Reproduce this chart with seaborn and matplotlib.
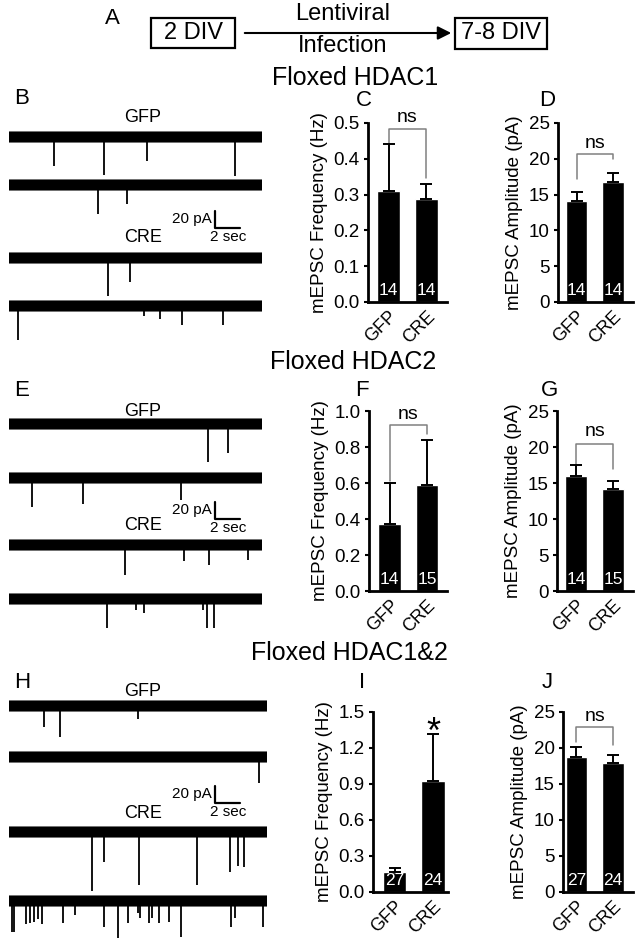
import numpy as np
import pandas as pd
import matplotlib
matplotlib.use("Agg")
import matplotlib.pyplot as plt
import seaborn as sns
from matplotlib.patches import Rectangle

sns.set_theme(style="ticks", rc={"text.color": "black", "axes.labelcolor": "black",
                                 "xtick.color": "black", "ytick.color": "black",
                                 "axes.edgecolor": "black"})
plt.rcParams['font.family'] = ['Liberation Sans', 'DejaVu Sans']

# ---------------- data ----------------
groups = ["GFP", "CRE"]

freq_hdac1 = [0.31, 0.287]
freq_hdac1_sem = [0.13, 0.043]
amp_hdac1 = [14.1, 16.8]
amp_hdac1_sem = [1.3, 1.25]
n_hdac1 = [14, 14]

freq_hdac2 = [0.37, 0.59]
freq_hdac2_sem = [0.23, 0.25]
amp_hdac2 = [16.0, 14.1]
amp_hdac2_sem = [1.5, 1.2]
n_hdac2 = [14, 15]

freq_hdac12 = [0.164, 0.927]
freq_hdac12_sem = [0.036, 0.387]
amp_hdac12 = [18.8, 17.9]
amp_hdac12_sem = [1.4, 1.1]
n_hdac12 = [27, 24]

# example traces: event times (s) and amplitudes (pA)
b_gfp1_t = [3.56, 7.51, 10.9, 17.9]
b_gfp1_a = [34, 45, 28, 46]
b_gfp2_t = [7.04, 9.33]
b_gfp2_a = [34, 22]
b_cre1_t = [7.83, 9.57]
b_cre1_a = [45, 28]
b_cre2_t = [0.71, 10.7, 11.9, 13.7, 16.9]
b_cre2_a = [40, 12, 15, 22, 22]

e_gfp1_t = [15.7, 17.3]
e_gfp1_a = [45, 34]
e_gfp2_t = [1.82, 5.85, 13.6]
e_gfp2_a = [34, 31, 26]
e_cre1_t = [9.17, 13.8, 15.8, 18.9]
e_cre1_a = [35, 19, 23.5, 17.6]
e_cre2_t = [7.75, 10.0, 10.7, 15.3, 15.65, 16.2]
e_cre2_a = [34, 13, 16.5, 13, 34, 34]

h_gfp1_t = [2.77, 4.03, 10.2]
h_gfp1_a = [24.7, 36.5, 15.3]
h_gfp2_t = [19.8]
h_gfp2_a = [30.6]
h_cre1_t = [6.56, 7.51, 10.3, 14.9, 17.5, 18.1, 18.6]
h_cre1_a = [69, 35, 62, 62, 47, 40, 41]
h_cre2_t = [0.24, 0.40, 1.34, 1.66, 1.98, 2.29, 2.61, 4.27, 5.22, 7.51, 8.62, 9.41,
            10.2, 10.36, 11.07, 11.3, 11.86, 12.65, 13.6, 17.55, 17.87, 20.1]
h_cre2_a = [36.5, 36.5, 27, 26, 25, 21, 27, 26, 16.5, 30.6, 43.5, 26,
            14, 20, 26, 20, 26, 25, 42, 30.6, 20, 30.6]

# ---------------- layout helpers ----------------
W, H = 640, 944
fig = plt.figure(figsize=(W / 100, H / 100), dpi=100)


def add_ax(l, t, r, b, **kw):
    return fig.add_axes([l / W, 1 - b / H, (r - l) / W, (b - t) / H], **kw)


def ftext(x, y, s, **kw):
    kw.setdefault("ha", "center")
    kw.setdefault("va", "center")
    fig.text(x / W, 1 - y / H, s, **kw)


# overlay for diagram (panel A)
ov = add_ax(0, 0, W, H)
ov.set_xlim(0, W)
ov.set_ylim(H, 0)
ov.axis("off")
ov.add_patch(Rectangle((151, 18), 84, 30, fill=False, lw=1.6, ec="black"))
ov.add_patch(Rectangle((455, 18), 92, 31, fill=False, lw=1.6, ec="black"))
ov.annotate("", xy=(454, 33), xytext=(242, 33),
            arrowprops=dict(arrowstyle="-|>", lw=1.5, color="black", mutation_scale=20))
ftext(193, 33, "2 DIV", fontsize=17)
ftext(501, 33, "7-8 DIV", fontsize=17)
ftext(343, 14, "Lentiviral", fontsize=17)
ftext(343, 46, "Infection", fontsize=17)

# titles
ftext(355, 78, "Floxed HDAC1", fontsize=18)
ftext(353, 362, "Floxed HDAC2", fontsize=18)
ftext(349, 653, "Floxed HDAC1&2", fontsize=18)

# panel letters
for letter, (x, y) in {"A": (112, 19), "B": (22, 99), "C": (364, 100), "D": (547, 100),
                       "E": (22, 391), "F": (362, 391), "G": (549, 391),
                       "H": (22, 683), "I": (362, 683), "J": (547, 683)}.items():
    ftext(x, y, letter, fontsize=16)

# ---------------- traces ----------------
PX_PER_S = 12.65
PX_PER_PA = 0.85


def trace_panel(top, bottom, length, traces, centers, labels, bar_y):
    ax = add_ax(9, top, 9 + length * PX_PER_S, bottom)
    ax.set_xlim(0, length)
    ax.set_ylim(-(bottom - top) / PX_PER_PA, 0)
    ax.axis("off")
    for (t, a), c in zip(traces, centers):
        base = -(c - top) / PX_PER_PA
        ax.fill_between([0, length], base - 7.5, base + 7.5, color="black", alpha=0.55, lw=0)
        ax.fill_between([0, length], base - 5.5, base + 5.5, color="black", lw=0)
        ax.vlines(t, base, base - np.asarray(a), color="black", lw=1.3)
    # scale bar
    xs = (215 - 9) / PX_PER_S
    yb = -(bar_y - top) / PX_PER_PA
    ax.plot([xs, xs, xs + 2], [yb + 20, yb, yb], color="black", lw=1.6, clip_on=False)
    ftext(212, bar_y - 9, "20 pA", fontsize=11, ha="right")
    ftext(228, bar_y + 9, "2 sec", fontsize=11)
    for s, (x, y) in labels:
        ftext(x, y, s, fontsize=13)


trace_panel(105, 345, 20,
            [(b_gfp1_t, b_gfp1_a), (b_gfp2_t, b_gfp2_a), (b_cre1_t, b_cre1_a), (b_cre2_t, b_cre2_a)],
            [137, 185, 258, 306], [("GFP", (143, 117)), ("CRE", (143, 238))], 228)
trace_panel(395, 640, 20,
            [(e_gfp1_t, e_gfp1_a), (e_gfp2_t, e_gfp2_a), (e_cre1_t, e_cre1_a), (e_cre2_t, e_cre2_a)],
            [424, 478, 545, 599], [("GFP", (143, 411)), ("CRE", (143, 526))], 519)
trace_panel(688, 944, 20.4,
            [(h_gfp1_t, h_gfp1_a), (h_gfp2_t, h_gfp2_a), (h_cre1_t, h_cre1_a), (h_cre2_t, h_cre2_a)],
            [706, 757, 832, 901], [("GFP", (143, 691)), ("CRE", (143, 813))], 803)


# ---------------- bar panels ----------------
def bar_panel(rect, xlim, means, sems, ns, ymax, step, fmt, ylabel, bracket=None, star=None):
    ax = add_ax(*rect)
    df = pd.DataFrame({"group": groups, "value": means})
    sns.barplot(data=df, x="group", y="value", color="black", saturation=1,
                width=0.6, errorbar=None, ax=ax)
    ax.errorbar([0, 1], means, yerr=[np.zeros(2), sems], fmt="none", ecolor="black",
                elinewidth=1.4, capsize=4, capthick=1.4, zorder=3)
    ax.set_xlim(*xlim)
    ax.set_ylim(0, ymax)
    ticks = np.arange(0, ymax + step / 2, step)
    ax.set_yticks(ticks)
    ax.set_yticklabels([fmt.format(v) for v in ticks])
    ax.set_xlabel("")
    ax.set_ylabel(ylabel, fontsize=13.5, labelpad=4)
    sns.despine(ax=ax)
    ax.spines["left"].set_linewidth(2)
    ax.spines["bottom"].set_linewidth(2)
    ax.tick_params(axis="y", direction="out", length=3, width=1.5, labelsize=13.5, pad=3)
    ax.tick_params(axis="x", length=0, labelsize=13, pad=4)
    for lab in ax.get_xticklabels():
        lab.set_rotation(45)
        lab.set_ha("right")
        lab.set_rotation_mode("anchor")
    for i, n in enumerate(ns):
        ax.annotate(str(n), (i, 0), xytext=(0, 3), textcoords="offset points",
                    ha="center", va="bottom", color="white", fontsize=12.5)
    if bracket is not None:
        lo_l, top, lo_r, ns_y = bracket
        ax.plot([0, 0, 1, 1], [lo_l, top, top, lo_r], color="#808080", lw=1.1, clip_on=False)
        ax.text(0.5, ns_y, "ns", ha="center", va="center", fontsize=14, clip_on=False)
    if star is not None:
        ax.text(1, star, "*", ha="center", va="baseline", fontsize=26, clip_on=False)
    return ax


bar_panel((368, 123, 447, 302), (-0.54, 1.54), freq_hdac1, freq_hdac1_sem, n_hdac1,
          0.5, 0.1, "{:.1f}", "mEPSC Frequency (Hz)", bracket=(0.445, 0.482, 0.346, 0.514))
bar_panel((558, 123, 633, 302), (-0.51, 1.55), amp_hdac1, amp_hdac1_sem, n_hdac1,
          25, 5, "{:.0f}", "mEPSC Amplitude (pA)", bracket=(17.2, 20.7, 20.0, 22.2))
bar_panel((369, 411, 447, 591), (-0.55, 1.53), freq_hdac2, freq_hdac2_sem, n_hdac2,
          1.0, 0.2, "{:.1f}", "mEPSC Frequency (Hz)", bracket=(0.61, 0.92, 0.87, 0.98))
bar_panel((557, 411, 633, 591), (-0.53, 1.55), amp_hdac2, amp_hdac2_sem, n_hdac2,
          25, 5, "{:.0f}", "mEPSC Amplitude (pA)", bracket=(17.7, 20.4, 17.0, 22.1))
bar_panel((373, 712, 448, 892), (-0.56, 1.39), freq_hdac12, freq_hdac12_sem, n_hdac12,
          1.5, 0.3, "{:.1f}", "mEPSC Frequency (Hz)", star=1.24)
bar_panel((563, 712, 633, 892), (-0.37, 1.55), amp_hdac12, amp_hdac12_sem, n_hdac12,
          25, 5, "{:.0f}", "mEPSC Amplitude (pA)", bracket=(20.9, 22.9, 20.4, 24.4))

fig.savefig("out.png", dpi=100)
